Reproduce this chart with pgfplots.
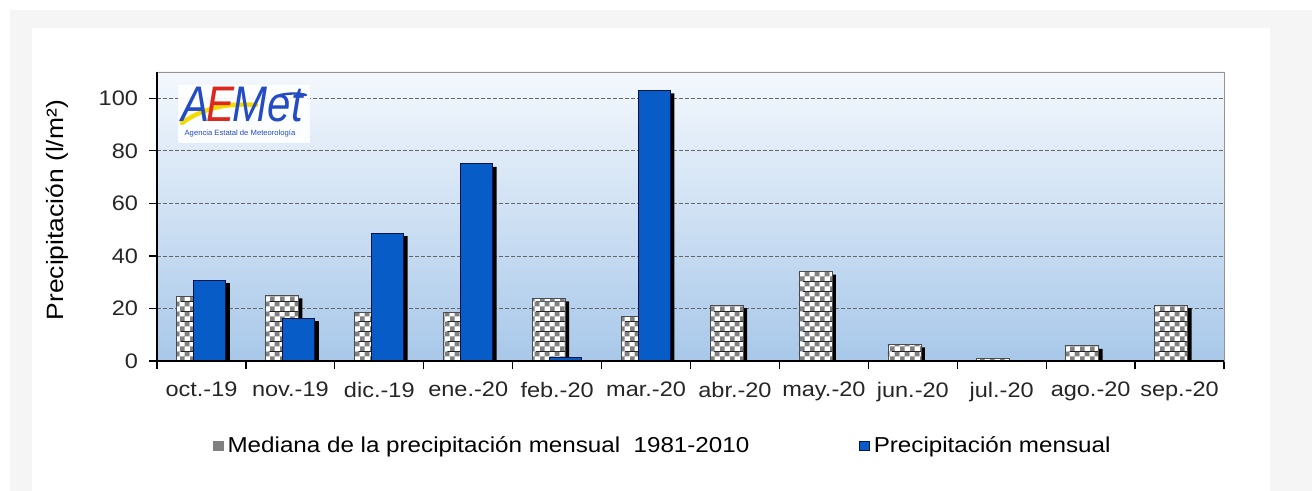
\documentclass[border=0pt]{standalone}
\usepackage{pgfplots}
\pgfplotsset{compat=1.18}
\usepackage{pgfplotstable}
\usepackage{fontspec}
\setmainfont{Liberation Sans}[FakeStretch=1.12]
\usetikzlibrary{patterns}

\definecolor{barblue}{RGB}{8,92,200}
\definecolor{baredge}{RGB}{0,20,70}
\definecolor{checkgray}{RGB}{128,128,128}
\definecolor{bgtop}{RGB}{244,248,253}
\definecolor{bgbot}{RGB}{168,200,233}
\definecolor{outergray}{RGB}{245,245,245}
\definecolor{aemblue}{RGB}{35,75,195}
\definecolor{aemred}{RGB}{220,40,30}
\definecolor{aemyellow}{RGB}{245,220,0}

\pgfdeclarepatterninherentlycolored{checks}{\pgfpointorigin}{\pgfpoint{5pt}{5pt}}{\pgfpoint{5pt}{5pt}}{%
  \pgfsetfillcolor{white}%
  \pgfpathrectangle{\pgfpointorigin}{\pgfpoint{5pt}{5pt}}%
  \pgfusepath{fill}%
  \pgfsetfillcolor{checkgray}%
  \pgfpathrectangle{\pgfpointorigin}{\pgfpoint{2.5pt}{2.5pt}}%
  \pgfpathrectangle{\pgfpoint{2.5pt}{2.5pt}}{\pgfpoint{2.5pt}{2.5pt}}%
  \pgfusepath{fill}}

\newcommand\tickfont{\fontsize{10.5}{12.6}\selectfont}
\newcommand\legfont{\fontsize{10.8}{13}\selectfont}
\newcommand\labfont{\fontsize{11.8}{14}\selectfont}

% median 1981-2010 and monthly precipitation (l/m2), months 0 = oct.-19
\pgfplotstableread{
i v
0 24.7
1 25.0
2 18.6
3 18.6
4 23.8
5 17.1
6 21.3
7 34.0
8 6.3
9 1.0
10 5.8
11 21.3
}\median
\pgfplotstableread{
i v
0 30.8
1 16.3
2 48.7
3 75.0
4 1.2
5 103.0
}\monthly

\begin{document}
\begin{tikzpicture}
\useasboundingbox (0pt,0pt) rectangle (656pt,245.5pt);
\fill[white] (0pt,0pt) rectangle (656pt,245.5pt);
\fill[outergray] (5pt,0pt) rectangle (656pt,240.5pt);
\fill[white] (16pt,0pt) rectangle (635pt,231.5pt);

\begin{axis}[
  at={(78.5pt,65pt)}, anchor=south west,
  scale only axis,
  width=533.5pt, height=144.5pt,
  xmin=-0.5, xmax=11.5, ymin=0, ymax=110,
  xtick={-0.5,0.5,...,11.5},
  x tick label as interval,
  xticklabels={oct.-19,nov.-19,dic.-19,ene.-20,feb.-20,mar.-20,abr.-20,may.-20,jun.-20,jul.-20,ago.-20,sep.-20},
  ytick={0,20,...,100},
  tick align=outside, tick pos=left,
  major tick length=4pt,
  tick style={black, line width=0.6pt},
  ymajorgrids,
  grid style={dash pattern=on 2pt off 1pt, gray!80!black, line width=0.4pt},
  axis background/.style={top color=bgtop, bottom color=bgbot},
  axis line style={draw=gray!85},
  /pgf/number format/assume math mode=true,
  ticklabel style={font=\tickfont, text=black!85},
  xticklabel style={yshift=-3pt},
  yticklabel style={xshift=-2pt},
  ylabel={Precipitación (l/m²)},
  every axis y label/.style={at={(axis description cs:-0.0937,0.522)}, rotate=90, anchor=center, font=\labfont},
  legend style={at={(axis description cs:0.475,-0.294)}, anchor=center, draw=none, fill=none,
    font=\legfont, legend columns=2, /tikz/every even column/.append style={column sep=53pt}},
  after end axis/.code={\draw[black, line width=0.7pt] (rel axis cs:0,1) -- (rel axis cs:0,0) -- (rel axis cs:1,0);},
]
% shadows of the median bars
\addplot[ybar, bar width=16.5pt, bar shift=-2.2pt, fill=black, draw=none, forget plot]
  table[x=i, y expr=\thisrow{v}-1.14] {\median};
\addplot[ybar, bar width=16.5pt, bar shift=-4.2pt, pattern=checks, draw=gray!60!black, line width=0.4pt,
  legend image code/.code={
    \fill[white] (0pt,-2.4pt) rectangle (4.8pt,2.4pt);
    \fill[checkgray] (0pt,0pt) rectangle (2.4pt,2.4pt);
    \fill[checkgray] (2.4pt,-2.4pt) rectangle (4.8pt,0pt);
    \draw[gray, line width=0.3pt] (0pt,-2.4pt) rectangle (4.8pt,2.4pt);}
] table[x=i, y=v] {\median};
\addlegendentry{Mediana de la precipitación mensual~ 1981-2010}

% shadows of the monthly bars
\addplot[ybar, bar width=16pt, bar shift=6.2pt, fill=black, draw=none, forget plot]
  table[x=i, y expr=\thisrow{v}-1.14] {\monthly};
\addplot[ybar, bar width=16pt, bar shift=4.2pt, fill=barblue, draw=baredge, line width=0.5pt,
  legend image code/.code={
    \draw[fill=barblue, draw=baredge, line width=0.4pt] (0pt,-2.4pt) rectangle (4.8pt,2.4pt);}
] table[x=i, y=v] {\monthly};
\addlegendentry{Precipitación mensual}
\end{axis}

% AEMET logo
\fill[white, opacity=0.9] (89pt,174pt) rectangle (155pt,203pt);
\draw[aemyellow, line width=2.2pt, line cap=round] (91pt,184pt) .. controls (102pt,192pt) and (115pt,194pt) .. (128pt,193pt);
\node[inner sep=0pt, xscale=0.75] at (121pt,193pt)
  {\fontsize{25}{25}\selectfont\itshape\textcolor{aemblue}{A}\kern-2pt\textcolor{aemred}{E}\kern-1pt\textcolor{aemblue}{Met}};
\draw[aemblue, line width=1.2pt, line cap=round] (140pt,198pt) .. controls (145pt,199pt) and (149pt,199pt) .. (153pt,198pt);
\node[inner sep=0pt, text=aemblue, xscale=0.9] at (120pt,178.5pt) {\fontsize{3.8}{4}\selectfont Agencia Estatal de Meteorología};
\end{tikzpicture}
\end{document}
